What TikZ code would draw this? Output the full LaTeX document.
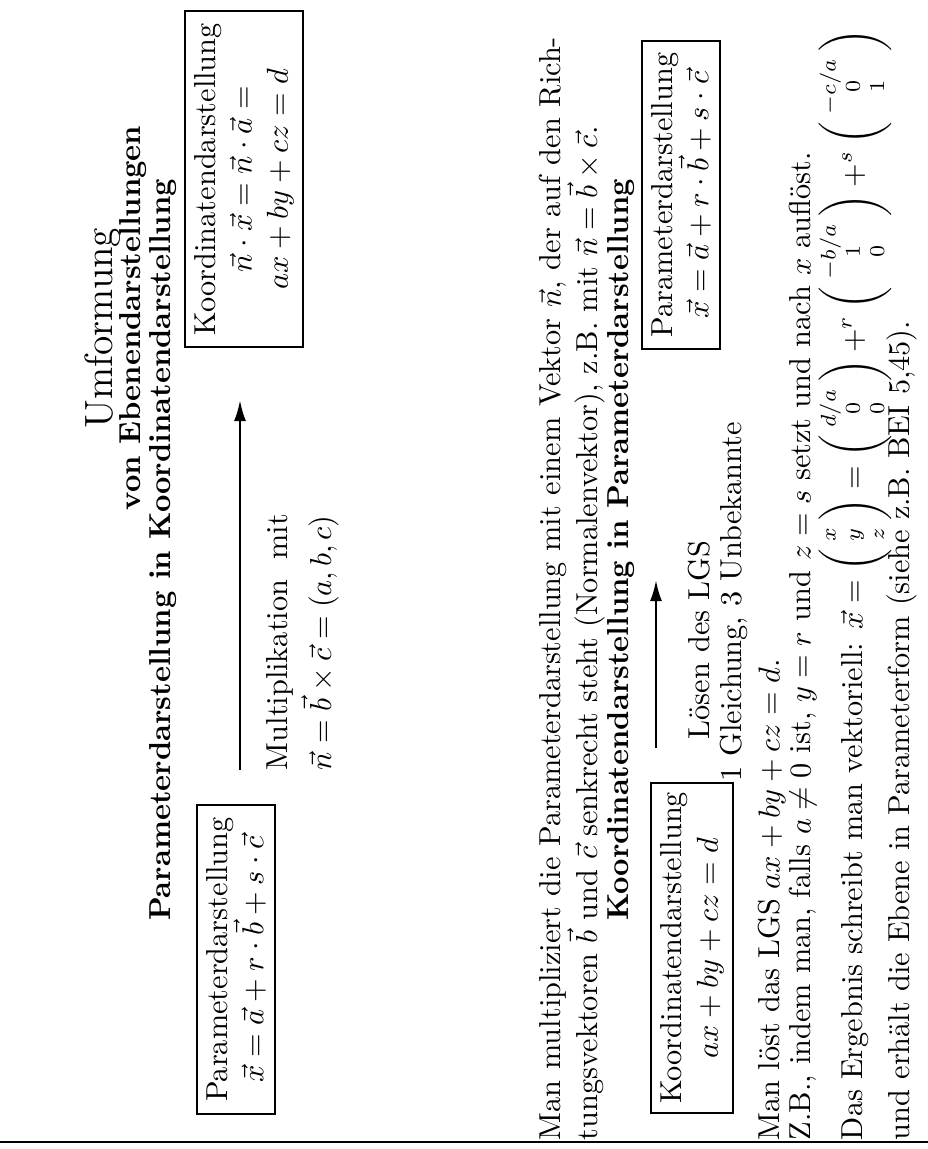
\documentclass[tikz,border=0pt]{standalone}
\usepackage{amsmath}
\usetikzlibrary{arrows.meta}
\newcommand\myvec[3]{\left(\vcenter{\hbox{\scriptsize\setlength\arraycolsep{2.5pt}$\begin{array}{c}#1\\ #2\\ #3\end{array}$}}\right)}
\begin{document}
\begin{tikzpicture}[x=0.33pt,y=-0.33pt,
  txt/.style={rotate=90, inner sep=0pt, outer sep=0pt},
  box/.style={draw, rotate=90, align=center, line width=0.7pt, inner xsep=4pt, inner ysep=3pt},
  conv/.style={-{Latex[length=7pt,width=4pt]}, line width=0.8pt}]
\useasboundingbox (0,0) rectangle (928,1149);
\coordinate (fl) at (0,1142);
\coordinate (fr) at (928,1142);
\draw[line width=0.8pt] (fl) -- (fr);
% title
\node[txt, font=\fontsize{13}{15}\selectfont] (t1) at (103,328) {Umformung};
\node[txt, font=\bfseries] (t2) at (133,318) {von Ebenendarstellungen};
\node[txt, font=\bfseries] (h1) at (163,550) {Parameterdarstellung in Koordinatendarstellung};
% boxes first part
\node[box, anchor=west] (b1) at (236,1115) {Parameterdarstellung\\ $\vec x=\vec a+r\cdot\vec b+s\cdot\vec c$};
\node[box, anchor=east] (b2) at (244,10) {Koordinatendarstellung\\ $\vec n\cdot\vec x=\vec n\cdot\vec a=$\\ $ax+by+cz=d$};
\coordinate (a1s) at (240,770);
\coordinate (a1e) at (240,400);
\draw[conv] (a1s) -- (a1e);
\node[txt, anchor=west] (m1) at (280,770) {Multiplikation\ \ mit};
\node[txt, anchor=west] (m2) at (320,770) {$\vec n=\vec b\times\vec c=(a,b,c)$};
% paragraph
\node[txt, anchor=west, text width=364pt, align=justify] (p1) at (572,1140) {Man multipliziert die Parameterdarstellung mit einem Vektor $\vec n$, der auf den Rich-\linebreak tungsvektoren $\vec b$ und $\vec c$ senkrecht steht (Normalenvektor), z.B. mit $\vec n=\vec b\times\vec c$.};
% second part
\node[txt, font=\bfseries] (h2) at (621,550) {Koordinatendarstellung in Parameterdarstellung};
\node[box, anchor=west, inner xsep=3pt] (b3) at (692,1114) {Koordinatendarstellung\\ $ax+by+cz=d$};
\node[box] (b4) at (681,195) {Parameterdarstellung\\ $\vec x=\vec a+r\cdot\vec b+s\cdot\vec c$};
\coordinate (a2s) at (656,748);
\coordinate (a2e) at (656,580);
\draw[conv] (a2s) -- (a2e);
\node[txt] (l1) at (699,640) {L\"osen des LGS};
\node[txt] (l2) at (734,602) {1 Gleichung, 3 Unbekannte};
% bottom text
\node[txt, anchor=west] (s1) at (772,1140) {Man l\"ost das LGS $ax+by+cz=d$.};
\node[txt, anchor=west] (s2) at (803,1140) {Z.B., indem man, falls $a\neq0$ ist, $y=r$ und $z=s$ setzt und nach $x$ aufl\"ost.};
\node[txt, anchor=west] (s3) at (855,1140) {Das Ergebnis schreibt man vektoriell: $\vec x=\myvec{x}{y}{z}=\myvec{d/a}{0}{0}+^{r}\myvec{-b/a}{1}{0}+^{s}\myvec{-c/a}{0}{1}$};
\node[txt, anchor=west] (s4) at (902,1140) {und erh\"alt die Ebene in Parameterform (siehe z.B. BEI 5,45).};
\end{tikzpicture}
\end{document}
